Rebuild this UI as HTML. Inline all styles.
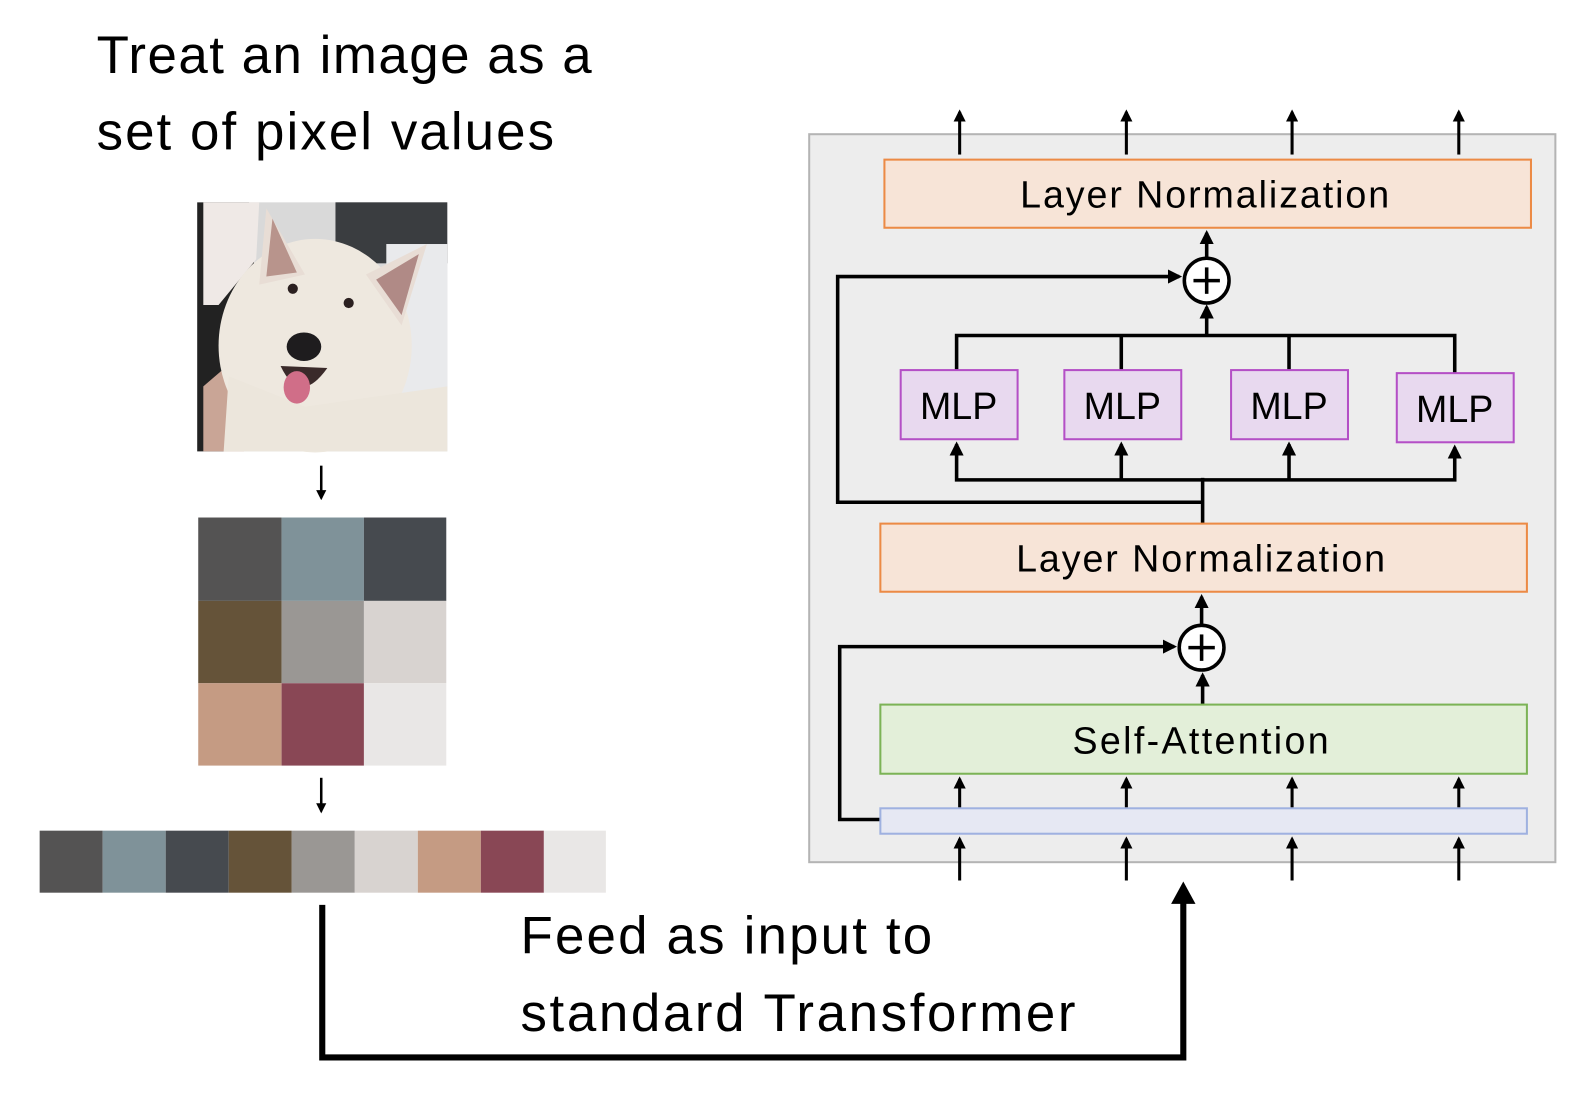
<!DOCTYPE html>
<html><head><meta charset="utf-8"><style>html,body{margin:0;padding:0;background:#fff}svg{display:block}</style></head>
<body>
<svg width="1594" height="1094" viewBox="0 0 1568 1076" preserveAspectRatio="none" xmlns="http://www.w3.org/2000/svg" font-family="Liberation Sans, sans-serif">
<defs>
<marker id="ah" markerWidth="4" markerHeight="4" refX="3.2" refY="2" orient="auto" markerUnits="strokeWidth"><path d="M0,0 L4,2 L0,4 z" fill="#000"/></marker>
</defs>
<rect width="1568" height="1076" fill="#fff"/>
<text x="95" y="72" font-size="52" textLength="487" fill="#000">Treat an image as a</text>
<text x="95" y="147" font-size="52" textLength="450" fill="#000">set of pixel values</text>

<g>
<rect x="194" y="199" width="246" height="245" fill="#d9d9d9"/>
<rect x="330" y="199" width="110" height="60" fill="#3a3d40"/>
<rect x="380" y="240" width="60" height="150" fill="#e9eaec"/>
<path d="M194,199 L245,199 L250,260 L230,330 L220,444 L194,444 z" fill="#222"/>
<path d="M200,199 L255,199 L252,255 L215,300 L200,300 z" fill="#efe9e6"/>
<path d="M200,380 L235,350 L240,444 L200,444 z" fill="#c9a596"/>
<ellipse cx="310" cy="340" rx="95" ry="105" fill="#eee8df"/>
<path d="M220,444 L225,370 L300,400 L440,380 L440,444 z" fill="#ece6dc"/>
<path d="M262,205 L300,270 L255,280 z" fill="#e8ddd5"/>
<path d="M268,215 L292,268 L262,272 z" fill="#b8948c"/>
<path d="M420,240 L360,270 L395,320 z" fill="#e8ddd5"/>
<path d="M412,250 L370,275 L395,310 z" fill="#b08a86"/>
<circle cx="288" cy="284" r="5" fill="#2b2020"/>
<circle cx="343" cy="298" r="5" fill="#2b2020"/>
<ellipse cx="299" cy="341" rx="17" ry="14" fill="#1e1c1e"/>
<path d="M276,360 Q295,400 322,362 z" fill="#3a2a2a"/>
<ellipse cx="292" cy="381" rx="13" ry="16" fill="#d06e88"/>
</g>

<line x1="316" y1="458" x2="316" y2="490" stroke="#000" stroke-width="2.5" marker-end="url(#ah)"/>
<g>
<rect x="195" y="509" width="82" height="82" fill="#545353"/>
<rect x="277" y="509" width="81" height="82" fill="#7f9299"/>
<rect x="358" y="509" width="81" height="82" fill="#464a4f"/>
<rect x="195" y="591" width="82" height="81" fill="#655339"/>
<rect x="277" y="591" width="81" height="81" fill="#9a9794"/>
<rect x="358" y="591" width="81" height="81" fill="#d8d3d0"/>
<rect x="195" y="672" width="82" height="81" fill="#c59b83"/>
<rect x="277" y="672" width="81" height="81" fill="#894755"/>
<rect x="358" y="672" width="81" height="81" fill="#e9e7e6"/>
</g>
<line x1="316" y1="765" x2="316" y2="798" stroke="#000" stroke-width="2.5" marker-end="url(#ah)"/>
<g>
<rect x="39" y="817" width="62" height="61" fill="#545353"/>
<rect x="101" y="817" width="62" height="61" fill="#7f9299"/>
<rect x="163" y="817" width="62" height="61" fill="#464a4f"/>
<rect x="225" y="817" width="62" height="61" fill="#655339"/>
<rect x="287" y="817" width="62" height="61" fill="#9a9794"/>
<rect x="349" y="817" width="62" height="61" fill="#d8d3d0"/>
<rect x="411" y="817" width="62" height="61" fill="#c59b83"/>
<rect x="473" y="817" width="62" height="61" fill="#894755"/>
<rect x="535" y="817" width="61" height="61" fill="#e9e7e6"/>
</g>

<path d="M317,890 L317,1040 L1164,1040 L1164,880" fill="none" stroke="#000" stroke-width="6"/>
<path d="M1152,889 L1164,867 L1176,889 z" fill="#000"/>
<text x="512" y="938" font-size="52" textLength="405">Feed as input to</text>
<text x="512" y="1014" font-size="52" textLength="546">standard Transformer</text>

<rect x="796" y="132" width="734" height="716" fill="#ededed" stroke="#b4b4b4" stroke-width="2"/>
<g stroke="#000" stroke-width="3" fill="none">
<line x1="944" y1="152" x2="944" y2="110" marker-end="url(#ah)"/>
<line x1="1108" y1="152" x2="1108" y2="110" marker-end="url(#ah)"/>
<line x1="1271" y1="152" x2="1271" y2="110" marker-end="url(#ah)"/>
<line x1="1435" y1="152" x2="1435" y2="110" marker-end="url(#ah)"/>
</g>
<rect x="870" y="157" width="636" height="67" fill="#f7e4d7" stroke="#ec8a45" stroke-width="2"/>
<text x="1185" y="204" font-size="37" text-anchor="middle" textLength="363">Layer Normalization</text>

<g stroke="#000" stroke-width="3.5" fill="none">
<line x1="1187" y1="253" x2="1187" y2="229" marker-end="url(#ah)"/>
<circle cx="1187" cy="276" r="22" fill="#fff"/>
<line x1="1174" y1="276" x2="1200" y2="276"/><line x1="1187" y1="263" x2="1187" y2="289"/>
<line x1="1183" y1="515" x2="1183" y2="470"/>
<polyline points="1183,494 824,494 824,272 1160,272" marker-end="url(#ah)"/>
<line x1="1187" y1="330" x2="1187" y2="302" marker-end="url(#ah)"/>
<polyline points="941,366 941,330 1431,330 1431,368"/>
<line x1="1103" y1="330" x2="1103" y2="366"/>
<line x1="1268" y1="330" x2="1268" y2="366"/>
<polyline points="1183,472 941,472 941,437" marker-end="url(#ah)"/>
<polyline points="1103,472 1103,437" marker-end="url(#ah)"/>
<polyline points="1183,472 1431,472 1431,440" marker-end="url(#ah)"/>
<polyline points="1268,472 1268,437" marker-end="url(#ah)"/>
</g>
<g stroke="#b44fc6" stroke-width="2" fill="#e8d9ef">
<rect x="886" y="364" width="115" height="68"/>
<rect x="1047" y="364" width="115" height="68"/>
<rect x="1211" y="364" width="115" height="68"/>
<rect x="1374" y="367" width="115" height="68"/>
</g>
<g font-size="37" text-anchor="middle">
<text x="943" y="412">MLP</text><text x="1104" y="412">MLP</text><text x="1268" y="412">MLP</text><text x="1431" y="415">MLP</text>
</g>

<rect x="866" y="515" width="636" height="67" fill="#f7e4d7" stroke="#ec8a45" stroke-width="2"/>
<text x="1181" y="562" font-size="37" text-anchor="middle" textLength="363">Layer Normalization</text>

<g stroke="#000" stroke-width="3.5" fill="none">
<line x1="1182" y1="614" x2="1182" y2="587" marker-end="url(#ah)"/>
<circle cx="1182" cy="637" r="22" fill="#fff"/>
<line x1="1169" y1="637" x2="1195" y2="637"/><line x1="1182" y1="624" x2="1182" y2="650"/>
<line x1="1183" y1="693" x2="1183" y2="664" marker-end="url(#ah)"/>
<polyline points="866,806 826,806 826,636 1155,636" marker-end="url(#ah)"/>
</g>
<rect x="866" y="693" width="636" height="68" fill="#e3efd9" stroke="#7cb356" stroke-width="2"/>
<text x="1181" y="741" font-size="37" text-anchor="middle" textLength="252">Self-Attention</text>
<rect x="866" y="795" width="636" height="25" fill="#e6e8f3" stroke="#9fb1e0" stroke-width="2"/>
<g stroke="#000" stroke-width="3" fill="none">
<line x1="944" y1="794" x2="944" y2="766" marker-end="url(#ah)"/>
<line x1="1108" y1="794" x2="1108" y2="766" marker-end="url(#ah)"/>
<line x1="1271" y1="794" x2="1271" y2="766" marker-end="url(#ah)"/>
<line x1="1435" y1="794" x2="1435" y2="766" marker-end="url(#ah)"/>
<line x1="944" y1="866" x2="944" y2="825" marker-end="url(#ah)"/>
<line x1="1108" y1="866" x2="1108" y2="825" marker-end="url(#ah)"/>
<line x1="1271" y1="866" x2="1271" y2="825" marker-end="url(#ah)"/>
<line x1="1435" y1="866" x2="1435" y2="825" marker-end="url(#ah)"/>
</g>
</svg>
</body></html>
